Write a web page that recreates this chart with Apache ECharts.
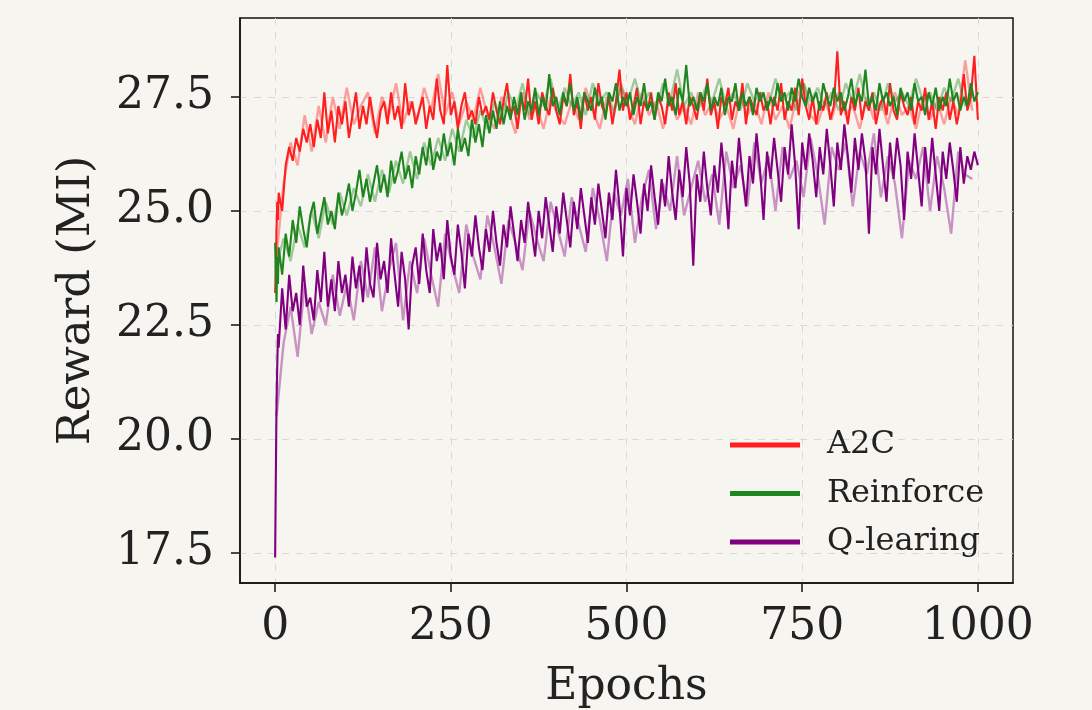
<!DOCTYPE html>
<html>
<head>
<meta charset="utf-8">
<script src="https://cdn.jsdelivr.net/npm/echarts@6/dist/echarts.min.js"></script>
<style>
html,body{margin:0;padding:0;background:#f7f5f0;}
#chart{width:1092px;height:710px;}
</style>
</head>
<body>
<div id="chart"></div>
<script>
// ---- data ----
const X_TICKS = [0, 250, 500, 750, 1000];
const Y_TICKS = [17.5, 20.0, 22.5, 25.0, 27.5];
const SERIES_NAMES = ['A2C', 'Reinforce', 'Q-learing'];

// main traces: epochs 0,1,2,3,4 then every 5 epochs up to 1000
const EARLY_EPOCHS = [0, 1, 2, 3, 4];
const MAIN_STEP = 5;

const a2c = [
23.2,23.8,24.6,25.2,24.8,
25.4,25.0,26.0,26.4,26.1,26.6,26.3,26.8,26.5,26.9,
26.4,27.0,26.6,27.6,26.7,27.2,26.5,27.3,26.9,27.4,
26.6,27.1,27.6,26.8,27.3,26.9,27.5,27.0,26.6,27.2,
27.4,26.9,27.6,27.0,27.3,26.8,27.8,27.1,27.4,26.9,
27.2,27.5,26.8,27.3,27.0,27.9,27.2,26.9,28.2,27.1,
27.4,26.8,27.3,27.6,27.0,27.2,26.9,27.5,27.1,27.3,
27.0,27.6,27.2,26.9,27.4,27.8,27.1,27.3,26.8,27.5,
27.2,27.9,27.0,27.4,26.9,27.6,27.3,27.1,27.7,27.2,
26.9,27.5,27.3,28.0,27.1,27.4,26.8,27.6,27.2,27.5,
27.0,27.8,27.3,27.1,27.5,26.9,27.4,28.1,27.2,27.6,
27.0,27.3,27.7,26.9,27.4,27.2,27.6,27.0,27.5,27.3,
26.9,27.6,27.2,27.8,27.1,27.4,26.9,27.5,27.3,27.0,
27.6,27.2,27.9,27.1,27.4,26.8,27.5,27.3,27.7,27.0,
27.4,27.2,27.8,26.9,27.5,27.3,27.1,27.6,27.2,27.4,
26.9,27.5,27.2,27.8,27.0,27.4,27.2,27.7,27.1,27.9,
27.3,27.0,27.5,26.9,27.4,27.2,27.6,27.0,27.3,28.5,
27.1,27.4,26.9,27.5,27.2,27.7,27.0,27.4,27.2,27.6,
26.9,27.3,27.5,27.1,27.8,27.2,27.0,27.6,27.3,27.1,
27.5,26.9,27.4,27.2,27.7,27.0,27.4,26.8,27.5,27.2,
27.6,27.0,27.4,26.9,27.3,28.0,27.2,27.5,28.4,27.0
];
const reinforce = [
24.3,23.6,23.0,24.0,23.4,
24.2,23.6,24.5,24.0,24.8,24.3,25.1,24.6,24.2,24.9,
25.2,24.5,24.9,25.3,24.7,25.0,24.6,25.4,24.9,25.2,
25.6,25.0,25.4,25.9,25.3,25.7,25.2,25.6,26.0,25.4,
25.8,25.3,26.1,25.6,25.9,26.3,25.7,26.0,25.5,26.2,
25.8,26.4,26.0,26.6,25.9,26.3,26.1,26.7,26.2,26.5,
26.0,26.8,26.3,26.6,26.2,27.0,26.5,26.9,26.4,27.1,
26.7,27.2,26.8,27.4,26.9,27.3,27.0,27.5,27.1,27.6,
27.0,27.4,27.2,27.7,27.1,27.5,27.2,28.0,27.3,27.5,
27.1,27.6,27.3,27.8,27.2,27.5,27.0,27.6,27.4,27.2,
27.7,27.3,27.5,27.0,27.6,27.4,27.8,27.2,27.5,27.3,
27.6,27.1,27.5,27.3,27.8,27.2,27.4,27.0,27.6,27.4,
27.9,27.3,27.5,27.1,27.7,27.4,28.2,27.3,27.5,27.2,
27.6,27.4,27.8,27.2,27.5,27.3,27.7,27.1,27.5,27.4,
27.8,27.2,27.6,27.3,27.5,27.1,27.7,27.4,27.6,27.2,
27.5,27.3,27.8,27.4,27.6,27.2,27.7,27.4,27.9,27.5,
27.3,27.7,27.4,27.6,27.2,27.8,27.5,27.3,27.7,27.4,
27.6,27.2,27.5,27.9,27.3,27.6,27.4,28.1,27.3,27.5,
27.2,27.8,27.4,27.6,27.3,27.5,27.1,27.7,27.4,27.6,
27.2,27.8,27.4,27.5,27.1,27.6,27.3,27.7,27.2,27.5,
27.3,27.9,27.4,27.6,27.2,27.5,27.3,27.8,27.4,27.6
];
const qlearning = [
17.4,19.2,20.8,21.6,22.3,
22.0,23.3,22.4,23.6,22.8,23.2,22.5,23.8,22.9,23.1,
22.6,23.7,23.0,24.1,22.9,23.5,22.8,23.9,23.2,23.6,
22.9,24.0,23.3,23.8,23.0,24.2,23.4,23.1,24.3,23.5,
23.9,23.2,24.4,23.6,22.9,24.1,23.5,22.4,23.8,24.2,
23.4,24.5,23.7,23.2,24.6,23.9,24.3,23.5,24.8,24.0,
23.6,24.7,24.1,23.3,24.5,24.0,24.9,24.2,23.7,24.6,
24.1,25.0,24.3,23.8,24.7,24.2,25.1,24.5,23.9,24.8,
24.3,25.2,24.6,24.0,25.0,24.4,25.3,24.7,24.1,25.1,
24.5,25.4,24.8,24.2,25.2,24.6,25.5,24.9,24.3,25.3,
24.7,25.6,25.0,24.4,25.4,24.8,25.9,25.1,24.0,25.5,
24.9,25.8,25.2,24.5,25.6,25.0,26.0,25.3,24.7,25.7,
25.1,26.2,25.4,24.8,25.9,25.3,26.4,25.6,23.8,25.8,
25.2,26.3,25.5,24.9,26.0,25.4,26.5,25.7,24.6,26.1,
25.5,26.6,25.8,25.1,26.2,25.6,26.7,25.9,24.8,26.3,
25.7,26.6,25.9,25.2,26.4,25.8,26.9,26.0,24.6,26.5,
25.9,26.7,26.1,25.3,26.4,25.8,26.8,26.0,25.1,26.5,
25.9,26.9,26.2,25.4,26.6,25.9,26.7,26.1,24.5,26.4,
25.8,26.8,26.0,25.2,26.5,25.7,26.6,26.0,24.8,26.3,
25.7,26.7,25.9,25.1,26.4,25.6,26.6,25.8,25.0,26.3,
25.7,26.5,25.9,25.2,26.4,25.6,26.2,25.9,26.3,26.0
];

// faint traces: every 10 epochs starting at epoch 2
const FAINT_START = 2;
const FAINT_STEP = 10;
const a2cFaint = [
24.0,25.6,26.5,26.0,27.1,26.3,27.3,26.5,27.5,26.8,
27.7,26.9,27.3,27.6,26.7,27.5,27.1,27.8,26.9,27.4,
27.0,27.7,27.2,28.0,27.1,27.6,26.9,27.4,27.0,27.7,
27.1,26.8,27.5,27.2,26.7,27.6,27.0,27.3,26.8,27.5,
27.1,26.9,27.4,27.0,27.7,27.2,26.8,27.5,27.1,27.8,
27.3,26.9,27.6,27.1,27.4,26.8,27.5,27.0,27.3,26.9,
27.6,27.1,27.4,27.0,27.3,26.8,27.5,27.1,27.4,26.9,
27.6,27.0,27.3,26.8,27.5,27.8,27.1,26.9,27.4,27.0,
27.6,27.1,27.3,26.8,27.5,27.0,27.4,26.9,27.6,27.1,
27.3,26.8,27.5,27.0,27.4,26.9,27.5,27.1,28.3,27.2
];
const reinforceFaint = [
23.8,24.4,23.9,24.7,24.2,25.0,24.4,25.2,24.7,25.4,
24.9,25.5,25.1,25.8,25.2,25.9,25.4,26.1,25.6,26.3,
25.7,26.5,26.0,26.6,26.1,26.8,26.3,27.0,26.6,27.2,
26.8,27.4,27.0,27.6,27.2,27.8,27.1,27.6,27.3,27.9,
27.2,27.7,27.3,27.6,27.1,27.8,27.4,27.6,27.2,27.7,
27.4,27.9,27.3,27.6,27.2,27.8,27.4,28.1,27.3,27.6,
27.2,27.7,27.4,27.9,27.3,27.6,27.2,27.8,27.4,27.6,
27.3,27.9,27.4,27.6,27.2,27.8,27.4,27.7,27.3,27.6,
27.2,27.8,27.4,28.0,27.3,27.6,27.2,27.8,27.4,27.6,
27.3,27.9,27.4,27.6,27.2,27.7,27.4,27.9,27.3,27.6
];
const qlearningFaint = [
20.5,22.1,22.9,21.8,23.4,22.3,23.0,22.5,23.6,22.7,
23.4,22.6,23.9,23.1,24.2,22.8,23.7,24.3,22.6,23.9,
23.2,24.4,23.6,22.9,24.5,23.8,23.2,24.7,24.0,23.5,
24.9,24.2,23.4,24.8,24.3,23.7,25.0,24.4,23.9,25.2,
24.6,24.0,25.3,24.7,24.1,25.5,24.8,23.9,25.4,24.9,
25.7,24.3,25.3,25.9,24.6,25.6,25.0,26.2,24.9,25.5,
26.1,25.2,25.8,24.7,26.3,25.5,26.0,25.1,26.5,25.6,
26.2,25.0,26.4,25.7,26.1,25.3,26.6,25.8,24.7,26.4,
25.9,26.5,25.1,26.3,25.8,26.7,25.3,26.2,25.6,24.4,
26.1,25.7,26.4,25.0,26.2,25.5,24.5,26.3,25.8,25.7
];

const COLORS = ['#ff1f1f', '#1f861f', '#800080'];

// ---- build ----
function mainEpochs(n) {
  const e = EARLY_EPOCHS.slice();
  while (e.length < n) e.push((e.length - EARLY_EPOCHS.length + 1) * MAIN_STEP);
  return e;
}
function pairMain(vals) {
  const ep = mainEpochs(vals.length);
  return vals.map((v, i) => [ep[i], v]);
}
function pairFaint(vals) {
  return vals.map((v, i) => [FAINT_START + i * FAINT_STEP, v]);
}

const mains = [a2c, reinforce, qlearning];
const faints = [a2cFaint, reinforceFaint, qlearningFaint];

const series = [];
for (let k = 0; k < 3; k++) {
  series.push({
    name: SERIES_NAMES[k] + ' (faint)',
    type: 'line', data: pairFaint(faints[k]), showSymbol: false, symbol: 'none',
    silent: true, z: 2 + k * 2,
    lineStyle: { color: COLORS[k], width: 2.4, opacity: 0.4 },
    itemStyle: { color: COLORS[k] }
  });
  series.push({
    name: SERIES_NAMES[k],
    type: 'line', data: pairMain(mains[k]), showSymbol: false, symbol: 'none',
    z: 3 + k * 2,
    lineStyle: { color: COLORS[k], width: 2.1 },
    itemStyle: { color: COLORS[k] }
  });
}

const FONT = 'DejaVu Serif';
const chart = echarts.init(document.getElementById('chart'), null, { renderer: 'canvas' });
chart.setOption({
  backgroundColor: '#f7f5f0',
  animation: false,
  grid: {
    left: 240, right: 79, top: 18, bottom: 127,
    containLabel: false, outerBoundsMode: 'none',
    show: true, borderColor: '#111', borderWidth: 1.5, backgroundColor: 'transparent'
  },
  legend: {
    data: SERIES_NAMES.map((n, k) => ({ name: n, icon: 'rect', itemStyle: { color: COLORS[k] } })),
    orient: 'vertical', left: 725, top: 424,
    itemWidth: 70, itemHeight: 5, itemGap: 16.5,
    textStyle: { fontFamily: FONT, fontSize: 32, color: '#222', lineHeight: 32, padding: [0, 0, 0, 22] }
  },
  xAxis: {
    type: 'value', min: -50, max: 1050,
    name: 'Epochs', nameLocation: 'middle', nameGap: 83,
    nameTextStyle: { fontFamily: FONT, fontSize: 44, color: '#222' },
    axisLine: { show: true, onZero: false, lineStyle: { color: '#111', width: 1.5 } },
    axisTick: { show: true, customValues: X_TICKS, length: 9, lineStyle: { color: '#111', width: 1.5 } },
    axisLabel: { customValues: X_TICKS, fontFamily: FONT, fontSize: 44, color: '#222', margin: 23,
      formatter: v => String(v) },
    splitLine: { show: true, lineStyle: { color: '#d9d9d9', type: [7, 7], width: 1 } }
  },
  yAxis: {
    type: 'value', min: 16.84, max: 29.23,
    name: 'Reward (MI)', nameLocation: 'middle', nameGap: 140, nameRotate: 90,
    nameTextStyle: { fontFamily: FONT, fontSize: 45, color: '#222' },
    axisLine: { show: true, onZero: false, lineStyle: { color: '#111', width: 1.5 } },
    axisTick: { show: true, customValues: Y_TICKS, length: 9, lineStyle: { color: '#111', width: 1.5 } },
    axisLabel: { customValues: Y_TICKS, fontFamily: FONT, fontSize: 44, color: '#222', margin: 26,
      formatter: v => v.toFixed(1) },
    splitLine: { show: true, lineStyle: { color: '#d9d9d9', type: [7, 7], width: 1 } }
  },
  series: series
});
</script>
</body>
</html>
